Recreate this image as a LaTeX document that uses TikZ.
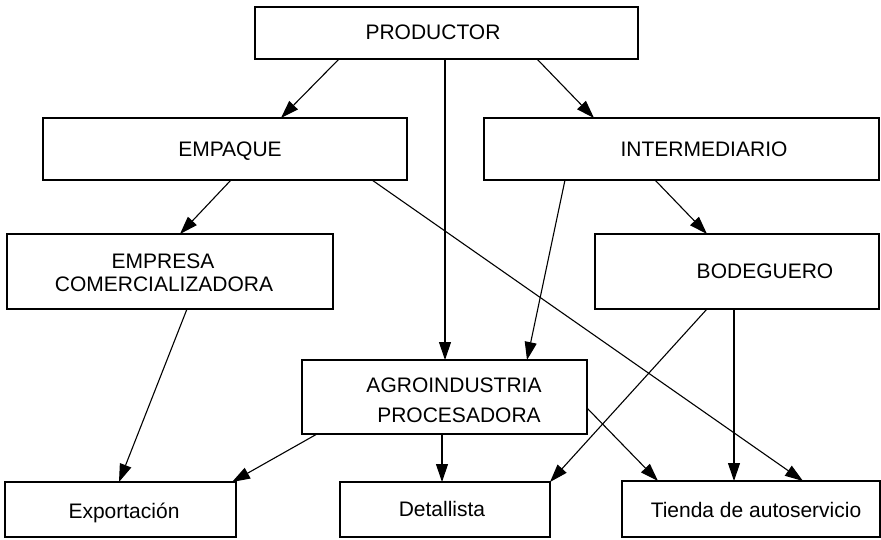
\documentclass[tikz,border=0pt]{standalone}
\usepackage{fontspec}
\setmainfont{Liberation Sans}
\usetikzlibrary{arrows.meta}
\begin{document}
\begin{tikzpicture}[x=1pt,y=-1pt,
  box/.style={draw, line width=1.4pt, inner sep=0pt, outer sep=0pt, anchor=north west},
  lbl/.style={font=\fontsize{21}{25}\selectfont, inner sep=0pt, anchor=base},
  conn/.style={line width=1.1pt, -{Triangle[length=18pt,width=12pt]}},
  plain/.style={line width=1.1pt}]
\useasboundingbox (0,0) rectangle (881,539);
% boxes
\node[box, minimum width=383pt, minimum height=52pt] (prod) at (255,7) {};
\node[box, minimum width=364pt, minimum height=62pt] (emp) at (43,118) {};
\node[box, minimum width=395pt, minimum height=62pt] (inter) at (484,118) {};
\node[box, minimum width=326pt, minimum height=75pt] (empresa) at (7,234) {};
\node[box, minimum width=284pt, minimum height=75pt] (bode) at (595,234) {};
\node[box, minimum width=285pt, minimum height=74pt] (agro) at (302,360) {};
\node[box, minimum width=231pt, minimum height=55pt] (export) at (5,482) {};
\node[box, minimum width=210pt, minimum height=55pt] (detal) at (340,482) {};
\node[box, minimum width=258pt, minimum height=56pt] (tienda) at (622,481) {};
% labels
\node[lbl] (tprod) at (433,39) {PRODUCTOR};
\node[lbl] (temp) at (230,156) {EMPAQUE};
\node[lbl] (tinter) at (704,156) {INTERMEDIARIO};
\node[lbl] (tempresa1) at (163,268) {EMPRESA};
\node[lbl] (tempresa2) at (164,291.5) {COMERCIALIZADORA};
\node[lbl] (tbode) at (765,278) {BODEGUERO};
\node[lbl] (tagro1) at (454,392) {AGROINDUSTRIA};
\node[lbl] (tagro2) at (459,422) {PROCESADORA};
\node[lbl] (texport) at (124,518) {Exportación};
\node[lbl] (tdetal) at (442,516) {Detallista};
\node[lbl] (ttienda) at (756,517) {Tienda de autoservicio};
% connectors
\draw[conn] ([xshift=84pt]prod.south west) -- ([xshift=238pt]emp.north west);
\draw[conn] ([xshift=282pt]prod.south west) -- ([xshift=110pt]inter.north west);
\draw[conn] ([xshift=190pt]prod.south west) -- ([xshift=143pt]agro.north west);
\draw[conn] ([xshift=188pt]emp.south west) -- ([xshift=173pt]empresa.north west);
\draw[conn] ([xshift=329pt]emp.south west) -- ([xshift=181pt]tienda.north west);
\draw[conn] ([xshift=81pt]inter.south west) -- ([xshift=225pt]agro.north west);
\draw[conn] ([xshift=171pt]inter.south west) -- ([xshift=112pt]bode.north west);
\draw[conn] ([xshift=180pt]empresa.south west) -- ([xshift=114pt]export.north west);
\draw[conn] ([xshift=112pt]bode.south west) -- (detal.north east);
\draw[conn] ([xshift=139pt]bode.south west) -- ([xshift=112pt]tienda.north west);
\draw[conn] ([xshift=15pt]agro.south west) -- ([xshift=-4pt]export.north east);
\draw[conn] ([xshift=140pt]agro.south west) -- ([xshift=102pt]detal.north west);
\draw[conn] ([yshift=-48pt]agro.north east) -- ([xshift=36pt]tienda.north west);
\end{tikzpicture}
\end{document}
